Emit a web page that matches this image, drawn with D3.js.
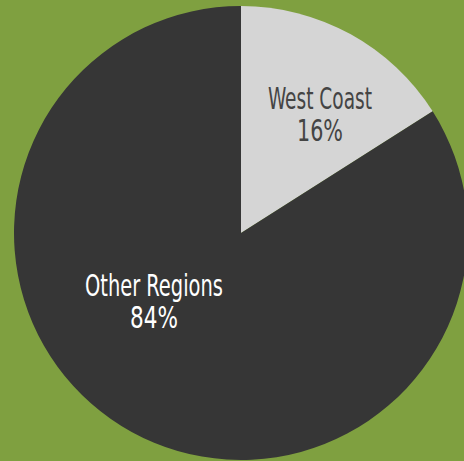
<!DOCTYPE html>
<html><head><meta charset="utf-8">
<script src="https://cdn.jsdelivr.net/npm/d3@7/dist/d3.min.js"></script>
<style>
html,body{margin:0;padding:0;background:#7fa040;overflow:hidden;}
svg{display:block;}
</style></head>
<body>
<svg id="chart" width="464" height="461"></svg>
<script>
const categories = ["West Coast", "Other Regions"];
const values = [16, 84];
const percentLabels = ["16%", "84%"];

const W = 464, H = 461;
const cx = 241, cy = 233, R = 227;
const colors = ["#d5d5d5", "#363636"];
const textColors = ["#444444", "#ffffff"];
// label placement: angle (deg clockwise from top), radius in px
const labelLayout = [{a: 33, r: 145}, {a: 233, r: 109}];
const textWidths = [[104, 46], [138, 48]];

const svg = d3.select("#chart");
svg.append("rect").attr("width", W).attr("height", H).attr("fill", "#7fa040");

const pie = d3.pie().sort(null).value(d => d);
const arcs = pie(values);
const arc = d3.arc().innerRadius(0).outerRadius(R);

const g = svg.append("g").attr("transform", `translate(${cx},${cy})`);
g.selectAll("path").data(arcs).join("path")
  .attr("d", arc)
  .attr("fill", (d, i) => colors[i]);

const font = "'Liberation Sans Narrow','DejaVu Sans Condensed','Roboto Condensed',sans-serif";
arcs.forEach((d, i) => {
  const L = labelLayout[i];
  const rad = L.a * Math.PI / 180;
  const x = L.r * Math.sin(rad), y = -L.r * Math.cos(rad);
  const t = g.append("text")
    .attr("x", x).attr("y", y)
    .attr("text-anchor", "middle")
    .attr("fill", textColors[i])
    .style("font-family", font)
    .style("font-size", "30px");
  t.append("tspan").attr("x", x).attr("dy", "-0.08em")
    .attr("textLength", textWidths[i][0]).attr("lengthAdjust", "spacingAndGlyphs")
    .text(categories[i]);
  t.append("tspan").attr("x", x).attr("dy", "1.07em")
    .attr("textLength", textWidths[i][1]).attr("lengthAdjust", "spacingAndGlyphs")
    .text(percentLabels[i]);
});
</script>
</body></html>
